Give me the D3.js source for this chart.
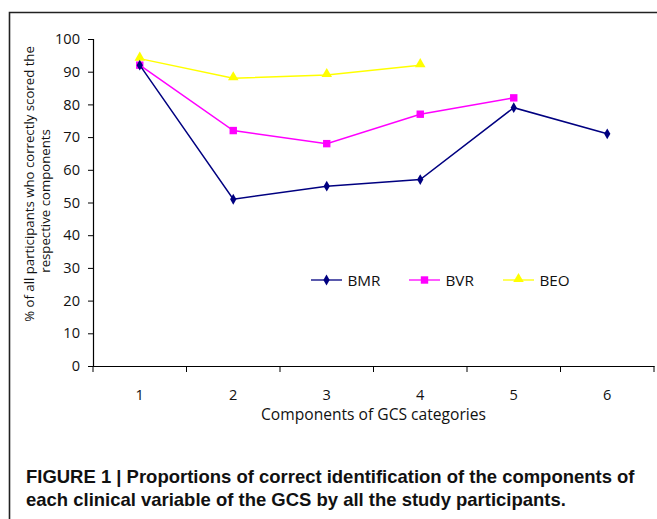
<!DOCTYPE html>
<html><head><meta charset="utf-8">
<script src="https://cdn.jsdelivr.net/npm/d3@7"></script>
<style>body{margin:0;background:#fff}svg{display:block}</style>
</head><body>
<svg id="c" width="657" height="519"></svg>
<script>
const categories = [1, 2, 3, 4, 5, 6];
const BMR = [92, 51, 55, 57, 79, 71];
const BVR = [92, 72, 68, 77, 82];
const BEO = [94, 88, 89, 92];
const yTicks = [0, 10, 20, 30, 40, 50, 60, 70, 80, 90, 100];
const seriesNames = ["BMR", "BVR", "BEO"];
const seriesColors = ["#000080", "#ff00ff", "#ffff00"];
const seriesValues = [BMR, BVR, BEO];

const svg = d3.select("#c");
const font = "'Open Sans', sans-serif";

// scale a text element's font size so its width matches a target width
function fit(sel, target) {
  const fs = parseFloat(sel.attr("font-size"));
  const w = sel.node().getComputedTextLength();
  if (w > 0) sel.attr("font-size", fs * target / w);
}

// frame
svg.append("path").attr("d", "M9.5,519 V12.5 H657").attr("fill", "none").attr("stroke", "#222").attr("stroke-width", 1.6);

const x = d3.scaleBand().domain(categories).range([93, 654]);
const y = d3.scaleLinear().domain([0, 100]).range([366, 39]);

// y axis
const ya = svg.append("g").attr("transform", "translate(93,0)")
  .call(d3.axisLeft(y).tickValues(yTicks).tickSize(5).tickPadding(8));
// x axis
const xa = svg.append("g").attr("transform", "translate(0,366)")
  .call(d3.axisBottom(x).tickSize(0).tickPadding(24));
xa.selectAll(".tick line").remove();
xa.selectAll(".xt").data(categories.concat(["end"])).enter().append("line")
  .attr("x1", (d, i) => i < categories.length ? x(d) : x.range()[1])
  .attr("x2", (d, i) => i < categories.length ? x(d) : x.range()[1])
  .attr("y1", 0).attr("y2", 6).attr("stroke", "#000");
[ya, xa].forEach(a => {
  a.selectAll("path.domain").attr("stroke", "#000").attr("stroke-width", 1.2);
  a.selectAll("text").attr("font-family", font).attr("font-size", 14).attr("fill", "#111");
  a.selectAll(".tick line").attr("stroke", "#000");
});
const t100 = ya.selectAll(".tick text").filter(d => d === 100);
fit(t100, 25);
const tickFs = t100.attr("font-size");
ya.selectAll("text").attr("font-size", tickFs);
xa.selectAll("text").attr("font-size", tickFs);

// axis titles
const xt = svg.append("text").attr("x", 373.5).attr("y", 420).attr("text-anchor", "middle")
  .attr("font-family", font).attr("font-size", 14).attr("fill", "#111").text("Components of GCS categories");
fit(xt, 225);
const yt1 = svg.append("text").attr("transform", "translate(34,184) rotate(-90)")
  .attr("text-anchor", "middle").attr("font-family", font).attr("font-size", 13).attr("fill", "#111")
  .text("% of all participants who correctly scored the");
fit(yt1, 276);
const yt2 = svg.append("text").attr("transform", "translate(50,201) rotate(-90)")
  .attr("text-anchor", "middle").attr("font-family", font).attr("font-size", 13).attr("fill", "#111")
  .text("respective components");
yt2.attr("font-size", yt1.attr("font-size"));

// markers
function marker(g, i, cx, cy) {
  if (i === 0) {
    g.append("path").attr("d", d3.symbol(d3.symbolDiamond, 34)()).attr("transform", `translate(${cx},${cy})`).attr("fill", seriesColors[i]);
  } else if (i === 1) {
    g.append("rect").attr("x", cx - 3.7).attr("y", cy - 3.7).attr("width", 7.4).attr("height", 7.4).attr("fill", seriesColors[i]);
  } else {
    g.append("path").attr("d", d3.symbol(d3.symbolTriangle, 48)()).attr("transform", `translate(${cx},${cy - 1})`).attr("fill", seriesColors[i]);
  }
}

const line = d3.line().x((d, i) => x(categories[i]) + x.bandwidth() / 2).y(d => y(d));
[2, 1, 0].forEach(i => {
  const g = svg.append("g");
  g.append("path").attr("d", line(seriesValues[i])).attr("fill", "none")
    .attr("stroke", seriesColors[i]).attr("stroke-width", 1.5);
  seriesValues[i].forEach((v, j) => marker(g, i, x(categories[j]) + x.bandwidth() / 2, y(v)));
});

// legend
const legX = [311, 409, 503];
let legFs = 15;
seriesNames.forEach((n, i) => {
  const g = svg.append("g");
  g.append("line").attr("x1", legX[i]).attr("x2", legX[i] + 31).attr("y1", 280).attr("y2", 280)
    .attr("stroke", seriesColors[i]).attr("stroke-width", 1.3);
  marker(g, i, legX[i] + 15.5, 280);
  const t = g.append("text").attr("x", legX[i] + 36.5).attr("y", 285.5).attr("font-family", font)
    .attr("font-size", legFs).attr("fill", "#111").text(n);
  if (i === 0) { fit(t, 33); legFs = t.attr("font-size"); }
});

// caption
const cap1 = svg.append("text").attr("x", 26).attr("y", 482.5)
  .attr("font-family", "'Liberation Sans', Arial, sans-serif")
  .attr("font-weight", "bold").attr("font-size", 18).attr("fill", "#111")
  .text("FIGURE 1 | Proportions of correct identification of the components of");
fit(cap1, 609);
svg.append("text").attr("x", 26).attr("y", 506)
  .attr("font-family", "'Liberation Sans', Arial, sans-serif")
  .attr("font-weight", "bold").attr("font-size", cap1.attr("font-size")).attr("fill", "#111")
  .text("each clinical variable of the GCS by all the study participants.");
</script>
</body></html>
